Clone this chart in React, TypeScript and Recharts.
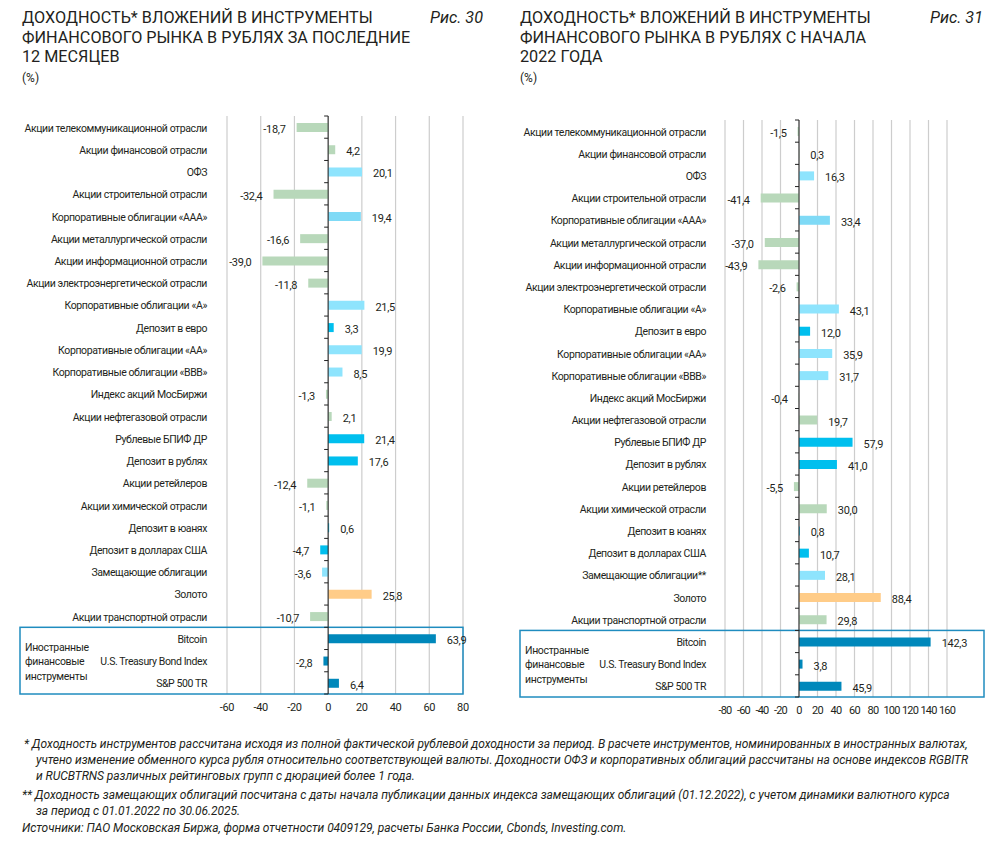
import React from 'react';
import {
  BarChart,
  Bar,
  XAxis,
  YAxis,
  CartesianGrid,
  Cell,
  LabelList,
  ReferenceLine,
} from 'recharts';

const categories12m = [
  'Акции телекоммуникационной отрасли',
  'Акции финансовой отрасли',
  'ОФЗ',
  'Акции строительной отрасли',
  'Корпоративные облигации «AAA»',
  'Акции металлургической отрасли',
  'Акции информационной отрасли',
  'Акции электроэнергетической отрасли',
  'Корпоративные облигации «A»',
  'Депозит в евро',
  'Корпоративные облигации «AA»',
  'Корпоративные облигации «BBB»',
  'Индекс акций МосБиржи',
  'Акции нефтегазовой отрасли',
  'Рублевые БПИФ ДР',
  'Депозит в рублях',
  'Акции ретейлеров',
  'Акции химической отрасли',
  'Депозит в юанях',
  'Депозит в долларах США',
  'Замещающие облигации',
  'Золото',
  'Акции транспортной отрасли',
  'Bitcoin',
  'U.S. Treasury Bond Index',
  'S&P 500 TR',
];

const categories2022 = categories12m.map(c => (c === 'Замещающие облигации' ? 'Замещающие облигации**' : c));

// kind of instrument -> bar colour
const kinds = [
  'stock', 'stock', 'bond', 'stock', 'bondAAA', 'stock', 'stock', 'stock', 'bond', 'deposit',
  'bond', 'bond', 'stock', 'stock', 'deposit', 'deposit', 'stock', 'stock', 'deposit', 'deposit',
  'bond', 'gold', 'stock', 'foreign', 'foreign', 'foreign',
];

const values12m = [
  -18.7, 4.2, 20.1, -32.4, 19.4, -16.6, -39.0, -11.8, 21.5, 3.3,
  19.9, 8.5, -1.3, 2.1, 21.4, 17.6, -12.4, -1.1, 0.6, -4.7,
  -3.6, 25.8, -10.7, 63.9, -2.8, 6.4,
];

const values2022 = [
  -1.5, 0.3, 16.3, -41.4, 33.4, -37.0, -43.9, -2.6, 43.1, 12.0,
  35.9, 31.7, -0.4, 19.7, 57.9, 41.0, -5.5, 30.0, 0.8, 10.7,
  28.1, 88.4, 29.8, 142.3, 3.8, 45.9,
];

const ticks12m = [-60, -40, -20, 0, 20, 40, 60, 80];
const ticks2022 = [-80, -60, -40, -20, 0, 20, 40, 60, 80, 100, 120, 140, 160];

// last three rows are grouped in a frame
const groupSize = 3;
const groupLabel = ['Иностранные', 'финансовые', 'инструменты'];

const kindColors: Record<string, string> = {
  stock: '#b8d8ba',
  bond: '#8ee4fd',
  bondAAA: '#7fdaf6',
  deposit: '#00bfee',
  gold: '#ffcc88',
  foreign: '#0088bb',
};

const FONT = 'Roboto, "Noto Sans", sans-serif';
const TEXT = '#231f20';

const fmt = (v: number) => v.toFixed(1).replace('.', ',');

function CategoryTick({ x, y, payload }: any) {
  return (
    <text x={x} y={y + 1} textAnchor="end" dominantBaseline="central" fontSize={10.5} fill={TEXT} letterSpacing={-0.4} fontFamily={FONT}>
      {payload.value}
    </text>
  );
}

function ValueLabel({ x, y, width, height, value }: any) {
  const left = Math.min(x, x + width);
  const right = Math.max(x, x + width);
  const neg = value < 0;
  return (
    <text
      x={neg ? left - 11 : right + 11}
      y={y + height / 2 + 2}
      textAnchor={neg ? 'end' : 'start'}
      dominantBaseline="central"
      fontSize={11}
      letterSpacing={-0.3}
      fill={TEXT}
      fontFamily={FONT}
    >
      {fmt(value)}
    </text>
  );
}

function ZeroAxis(n: number) {
  return (props: any) => {
    const { x1 } = props;
    const top = Math.min(props.y1, props.y2);
    const bottom = Math.max(props.y1, props.y2);
    const step = (bottom - top) / n;
    return (
      <g>
        <line x1={x1} x2={x1} y1={top} y2={bottom} stroke="#222" strokeWidth={1} />
        {Array.from({ length: n + 1 }, (_, k) => (
          <line key={k} x1={x1 - 4} x2={x1} y1={top + k * step} y2={top + k * step} stroke="#222" strokeWidth={1} />
        ))}
      </g>
    );
  };
}

// drawn on the reference line at the left edge of the value axis
function GroupBox(n: number, plotWidth: number, extLeft: number, extRight: number) {
  return (props: any) => {
    const { x1 } = props;
    const plotTop = Math.min(props.y1, props.y2);
    const bottom = Math.max(props.y1, props.y2);
    const step = (bottom - plotTop) / n;
    const top = plotTop + (n - groupSize) * step;
    const bx = x1 - extLeft;
    return (
      <g>
        <rect x={bx} y={top} width={plotWidth + extLeft + extRight} height={bottom - top} fill="none" stroke="#1f8cbf" strokeWidth={1.5} />
        {groupLabel.map((t, i) => (
          <text key={i} x={bx + 5} y={top + 20 + i * 14.5} dominantBaseline="central" fontSize={10.5} fill={TEXT} fontFamily={FONT} letterSpacing={-0.35}>
            {t}
          </text>
        ))}
      </g>
    );
  };
}

interface ReturnsChartProps {
  names: string[];
  values: number[];
  ticks: number[];
  width: number;
  height: number;
  margin: { top: number; right: number; bottom: number; left: number };
  axisWidth: number;
  labelGap: number;
  boxRight: number;
  tickSpacing: number;
}

function ReturnsChart({ names, values, ticks, width, height, margin, axisWidth, labelGap, boxRight, tickSpacing }: ReturnsChartProps) {
  const data = names.map((name, i) => ({ name, value: values[i], kind: kinds[i] }));
  const plotWidth = width - margin.left - margin.right - axisWidth;
  return (
    <BarChart width={width} height={height} data={data} layout="vertical" margin={margin}>
      <CartesianGrid horizontal={false} stroke="#cdcdcd" strokeWidth={1.2} />
      <XAxis
        type="number"
        domain={[ticks[0], ticks[ticks.length - 1]]}
        ticks={ticks}
        axisLine={false}
        tickLine={false}
        tickMargin={3}
        height={22}
        interval={0}
        tick={{ fontSize: 11, fill: TEXT, fontFamily: FONT, letterSpacing: tickSpacing }}
      />
      <YAxis
        type="category"
        dataKey="name"
        width={axisWidth}
        axisLine={false}
        tickLine={false}
        tickSize={0}
        tickMargin={labelGap}
        interval={0}
        tick={<CategoryTick />}
      />
      <Bar dataKey="value" barSize={9} isAnimationActive={false}>
        {data.map((d, i) => (
          <Cell key={i} fill={kindColors[d.kind]} />
        ))}
        <LabelList dataKey="value" content={<ValueLabel />} />
      </Bar>
      <ReferenceLine x={ticks[0]} stroke="none" shape={GroupBox(names.length, plotWidth, axisWidth - 20, boxRight)} />
      <ReferenceLine x={0} shape={ZeroAxis(names.length)} />
    </BarChart>
  );
}

function Title({ lines, fig, left, width }: { lines: string[]; fig: string; left: number; width: number }) {
  return (
    <div style={{ position: 'absolute', left, top: 8, width, fontFamily: FONT, color: TEXT }}>
      {lines.map((l, i) => (
        <div key={i} style={{ fontSize: 16.2, lineHeight: '19.6px' }}>{l}</div>
      ))}
      <div style={{ fontSize: 12, lineHeight: '16px', marginTop: 3 }}>(%)</div>
      <div style={{ position: 'absolute', right: 0, top: 0, fontSize: 16.2, lineHeight: '19.6px', fontStyle: 'italic' }}>{fig}</div>
    </div>
  );
}

const notes = [
  { x: 24, y: 737, t: '* Доходность инструментов рассчитана исходя из полной фактической рублевой доходности за период. В расчете инструментов, номинированных в иностранных валютах,' },
  { x: 36, y: 753, t: 'учтено изменение обменного курса рубля относительно соответствующей валюты. Доходности ОФЗ и корпоративных облигаций рассчитаны на основе индексов RGBITR' },
  { x: 36, y: 769, t: 'и RUCBTRNS различных рейтинговых групп с дюрацией более 1 года.' },
  { x: 22, y: 788, t: '** Доходность замещающих облигаций посчитана с даты начала публикации данных индекса замещающих облигаций (01.12.2022), с учетом динамики валютного курса' },
  { x: 36, y: 804, t: 'за период с 01.01.2022 по 30.06.2025.' },
  { x: 22, y: 821, t: 'Источники: ПАО Московская Биржа, форма отчетности 0409129, расчеты Банка России, Cbonds, Investing.com.' },
];

export default function App() {
  return (
    <div style={{ position: 'absolute', left: 0, top: 0, width: 1000, height: 841, background: '#fff', overflow: 'hidden' }}>
      <Title
        left={22}
        width={461}
        fig="Рис. 30"
        lines={['ДОХОДНОСТЬ* ВЛОЖЕНИЙ В ИНСТРУМЕНТЫ', 'ФИНАНСОВОГО РЫНКА В РУБЛЯХ ЗА ПОСЛЕДНИЕ', '12 МЕСЯЦЕВ']}
      />
      <Title
        left={520}
        width={463}
        fig="Рис. 31"
        lines={['ДОХОДНОСТЬ* ВЛОЖЕНИЙ В ИНСТРУМЕНТЫ', 'ФИНАНСОВОГО РЫНКА В РУБЛЯХ С НАЧАЛА', '2022 ГОДА']}
      />
      <div style={{ position: 'absolute', left: 0, top: 100 }}>
        <ReturnsChart
          names={categories12m}
          values={values12m}
          ticks={ticks12m}
          width={490}
          height={620}
          margin={{ top: 16, right: 27, bottom: 4, left: 0 }}
          axisWidth={227}
          labelGap={20}
          boxRight={0}
          tickSpacing={-0.3}
        />
      </div>
      <div style={{ position: 'absolute', left: 500, top: 100 }}>
        <ReturnsChart
          names={categories2022}
          values={values2022}
          ticks={ticks2022}
          width={500}
          height={621}
          margin={{ top: 20, right: 53, bottom: 2, left: 0 }}
          axisWidth={225}
          labelGap={19}
          boxRight={37}
          tickSpacing={-0.8}
        />
      </div>
      {notes.map((n, i) => (
        <div
          key={i}
          style={{
            position: 'absolute',
            left: n.x,
            top: n.y,
            fontFamily: FONT,
            fontStyle: 'italic',
            fontSize: 12,
            lineHeight: '15px',
            letterSpacing: -0.05,
            color: TEXT,
            whiteSpace: 'nowrap',
          }}
        >
          {n.t}
        </div>
      ))}
    </div>
  );
}
